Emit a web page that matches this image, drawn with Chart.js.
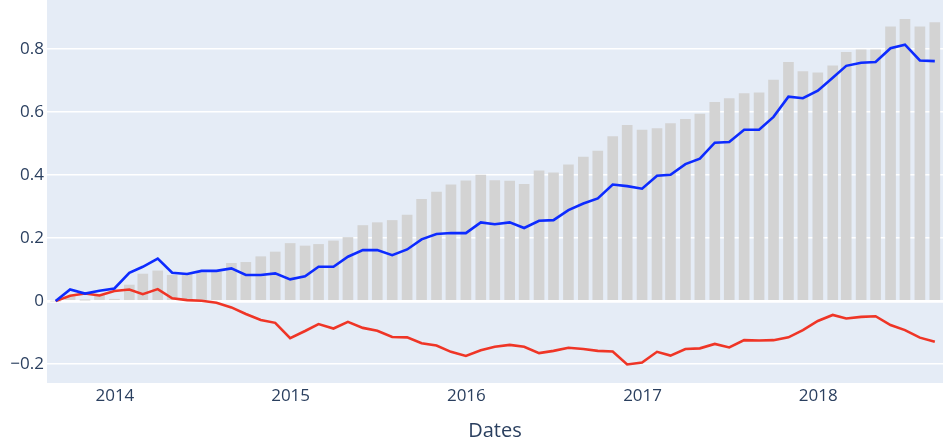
<!DOCTYPE html>
<html>
<head>
<meta charset="utf-8">
<script src="https://cdn.jsdelivr.net/npm/chart.js@4.4.0/dist/chart.umd.min.js"></script>
<style>
  html, body { margin: 0; padding: 0; background: #fff; }
</style>
</head>
<body>
<canvas id="myChart" width="943" height="439"></canvas>
<script>
// month-end dates
const dates = [
  '2013-08-31', '2013-09-30', '2013-10-31', '2013-11-30', '2013-12-31',
  '2014-01-31', '2014-02-28', '2014-03-31', '2014-04-30', '2014-05-31', '2014-06-30',
  '2014-07-31', '2014-08-31', '2014-09-30', '2014-10-31', '2014-11-30', '2014-12-31',
  '2015-01-31', '2015-02-28', '2015-03-31', '2015-04-30', '2015-05-31', '2015-06-30',
  '2015-07-31', '2015-08-31', '2015-09-30', '2015-10-31', '2015-11-30', '2015-12-31',
  '2016-01-31', '2016-02-29', '2016-03-31', '2016-04-30', '2016-05-31', '2016-06-30',
  '2016-07-31', '2016-08-31', '2016-09-30', '2016-10-31', '2016-11-30', '2016-12-31',
  '2017-01-31', '2017-02-28', '2017-03-31', '2017-04-30', '2017-05-31', '2017-06-30',
  '2017-07-31', '2017-08-31', '2017-09-30', '2017-10-31', '2017-11-30', '2017-12-31',
  '2018-01-31', '2018-02-28', '2018-03-31', '2018-04-30', '2018-05-31', '2018-06-30',
  '2018-07-31', '2018-08-31'
];

const barValues = [
  0, 0.014, 0.003, 0.019, 0.006, 0.051, 0.086, 0.096, 0.082, 0.086,
  0.090, 0.093, 0.120, 0.123, 0.141, 0.156, 0.183, 0.175, 0.180, 0.191,
  0.202, 0.240, 0.249, 0.256, 0.273, 0.323, 0.346, 0.369, 0.382, 0.400,
  0.383, 0.381, 0.371, 0.414, 0.407, 0.433, 0.457, 0.476, 0.522, 0.558,
  0.543, 0.548, 0.564, 0.577, 0.594, 0.631, 0.643, 0.659, 0.661, 0.702,
  0.758, 0.729, 0.725, 0.747, 0.790, 0.798, 0.798, 0.871, 0.895, 0.871, 0.884
];

const blueValues = [
  0, 0.037, 0.024, 0.033, 0.040, 0.090, 0.109, 0.135, 0.090, 0.086,
  0.096, 0.096, 0.104, 0.083, 0.083, 0.088, 0.069, 0.079, 0.109, 0.109,
  0.141, 0.162, 0.162, 0.146, 0.164, 0.196, 0.213, 0.216, 0.216, 0.250,
  0.244, 0.250, 0.232, 0.255, 0.257, 0.289, 0.310, 0.326, 0.370, 0.365,
  0.357, 0.398, 0.401, 0.435, 0.452, 0.503, 0.505, 0.544, 0.544, 0.585,
  0.649, 0.644, 0.668, 0.709, 0.747, 0.757, 0.759, 0.803, 0.814, 0.764, 0.762
];

const redValues = [
  0, 0.017, 0.024, 0.018, 0.032, 0.037, 0.022, 0.038, 0.009, 0.003,
  0.001, -0.005, -0.020, -0.041, -0.060, -0.069, -0.118, -0.095, -0.073, -0.087,
  -0.066, -0.085, -0.094, -0.114, -0.115, -0.134, -0.141, -0.161, -0.174, -0.156,
  -0.145, -0.139, -0.145, -0.165, -0.158, -0.148, -0.152, -0.158, -0.160, -0.201,
  -0.195, -0.161, -0.173, -0.152, -0.150, -0.136, -0.147, -0.124, -0.125, -0.124,
  -0.115, -0.092, -0.063, -0.044, -0.055, -0.050, -0.048, -0.076, -0.092, -0.116, -0.129
];

const yearTicks = [2014, 2015, 2016, 2017, 2018];
const yTicks = [-0.2, 0, 0.2, 0.4, 0.6, 0.8];

const toMs = s => Date.parse(s + 'T00:00:00Z');
const pts = vals => dates.map((d, i) => ({ x: toMs(d), y: vals[i] }));

const textColor = '#2a3f5f';
const fontFam = '"Open Sans", "Noto Sans", sans-serif';

// plot background
const plotBg = {
  id: 'plotBg',
  beforeDraw(chart) {
    const a = chart.chartArea;
    const c = chart.ctx;
    c.save();
    c.fillStyle = '#e5ecf6';
    c.fillRect(a.left, a.top, a.right - a.left, a.bottom - a.top);
    c.restore();
  }
};

var ctx = document.getElementById('myChart');
var chart = new Chart(ctx, {
  type: 'bar',
  data: {
    datasets: [
      {
        type: 'line',
        label: 'blue',
        data: pts(blueValues),
        borderColor: '#0d2bff',
        borderWidth: 2.6,
        pointRadius: 0,
        tension: 0,
        order: 1
      },
      {
        type: 'line',
        label: 'red',
        data: pts(redValues),
        borderColor: '#ef3526',
        borderWidth: 2.6,
        pointRadius: 0,
        tension: 0,
        order: 2
      },
      {
        type: 'bar',
        label: 'bars',
        data: pts(barValues),
        backgroundColor: '#d3d3d3',
        barThickness: 10,
        order: 3
      }
    ]
  },
  options: {
    responsive: false,
    animation: false,
    layout: { padding: 0 },
    plugins: { legend: { display: false }, tooltip: { enabled: false } },
    scales: {
      x: {
        type: 'linear',
        min: toMs('2013-08-13'),
        max: toMs('2018-09-17'),
        offset: false,
        border: { display: false },
        grid: { display: false, drawTicks: false },
        afterBuildTicks: s => {
          s.ticks = yearTicks.map(y => ({ value: Date.UTC(y, 0, 1) }));
        },
        afterFit: s => {
          s.height = 56;
          s.paddingLeft = 0;
          s.paddingRight = 0;
        },
        ticks: {
          autoSkip: false,
          maxRotation: 0,
          padding: 3,
          color: textColor,
          font: { family: fontFam, size: 17 },
          callback: v => String(new Date(v).getUTCFullYear())
        },
        title: {
          display: true,
          text: 'Dates',
          color: textColor,
          padding: 0,
          font: { family: fontFam, size: 20, lineHeight: 0.8 }
        }
      },
      y: {
        min: -0.26,
        max: 0.956,
        border: { display: false },
        grid: {
          color: '#ffffff',
          drawTicks: false,
          lineWidth: c => (c.tick && c.tick.value === 0 ? 2.8 : 1.4)
        },
        afterBuildTicks: s => {
          s.ticks = yTicks.map(v => ({ value: v }));
        },
        afterFit: s => {
          s.width = 47;
          s.paddingTop = 0;
          s.paddingBottom = 0;
        },
        ticks: {
          padding: 3,
          color: textColor,
          font: { family: fontFam, size: 17 },
          callback: v => (v === 0 ? '0' : v.toFixed(1).replace('-', '\u2212'))
        }
      }
    }
  },
  plugins: [plotBg]
});
</script>
</body>
</html>
